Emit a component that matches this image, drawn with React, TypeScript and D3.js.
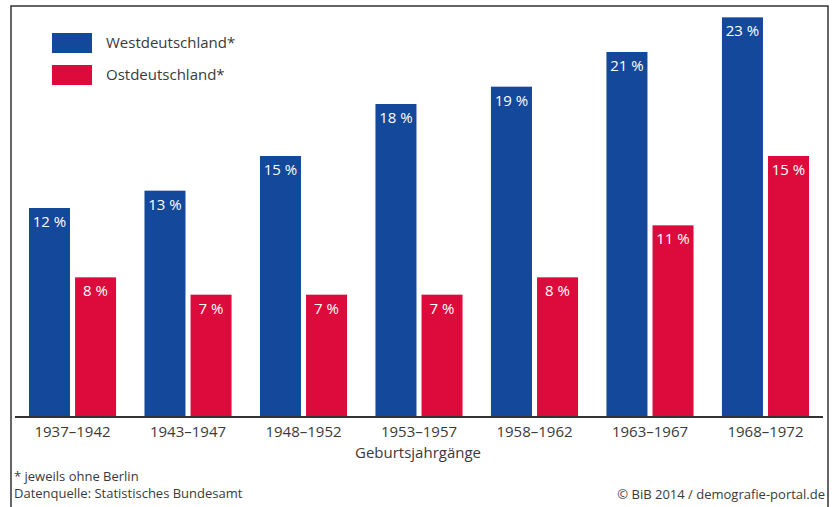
import React from "react";
import * as d3 from "d3";

const categories = ["1937–1942", "1943–1947", "1948–1952", "1953–1957", "1958–1962", "1963–1967", "1968–1972"];
const seriesNames = ["Westdeutschland*", "Ostdeutschland*"];
const west = [12, 13, 15, 18, 19, 21, 23];
const east = [8, 7, 7, 7, 8, 11, 15];
const colors = ["#13489a", "#dc0b3c"];
const axisTitle = "Geburtsjahrgänge";
const footnote1 = "* jeweils ohne Berlin";
const footnote2 = "Datenquelle: Statistisches Bundesamt";
const credit = "© BiB 2014 / demografie-portal.de";

const W = 835;
const H = 507;
const FONT = "'Open Sans', 'Noto Sans', sans-serif";
const TXT = "#3a3a3a";

export default function App() {
  const x0 = d3.scaleBand<string>().domain(categories).range([15, 823]).paddingInner(0.246).paddingOuter(0.121);
  const x1 = d3.scaleBand<number>().domain([0, 1]).range([0, x0.bandwidth()]).paddingInner(0.11);
  const y = d3.scaleLinear().domain([0, 24]).range([416, 0]);
  const series = [west, east];

  return (
    <svg width={W} height={H} style={{ position: "absolute", left: 0, top: 0, background: "#fff" }} fontFamily={FONT}>
      <rect x={11} y={6} width={817} height={H} fill="#fff" stroke="#333" strokeWidth={1.5} />
      {/* legend */}
      {seriesNames.map((s, i) => (
        <g key={s} transform={`translate(52,${33 + i * 32})`}>
          <rect width={40} height={20} fill={colors[i]} />
          <text x={54} y={15} fontSize={15} fill={TXT}>{s}</text>
        </g>
      ))}
      {/* bars */}
      {categories.map((c, ci) => (
        <g key={c} transform={`translate(${x0(c)},0)`}>
          {series.map((vals, si) => {
            const v = vals[ci];
            const bx = x1(si)!;
            const bw = x1.bandwidth();
            return (
              <g key={si}>
                <rect x={bx} y={y(v)} width={bw} height={y(0) - y(v)} fill={colors[si]} />
                <text x={bx + bw / 2} y={y(v) + 19} textAnchor="middle" fontSize={15} fill="#fff">{`${v} %`}</text>
              </g>
            );
          })}
          <text x={x0.bandwidth() / 2} y={437} textAnchor="middle" fontSize={15} fill={TXT}>{c}</text>
        </g>
      ))}
      <line x1={15} x2={823} y1={417} y2={417} stroke="#333" strokeWidth={2} />
      <text x={418} y={458} textAnchor="middle" fontSize={15} fill={TXT}>{axisTitle}</text>
      <text x={14} y={481} fontSize={13} fill={TXT}>{footnote1}</text>
      <text x={14} y={498} fontSize={13} fill={TXT}>{footnote2}</text>
      <text x={825} y={499} textAnchor="end" fontSize={13} fill={TXT}>{credit}</text>
    </svg>
  );
}
